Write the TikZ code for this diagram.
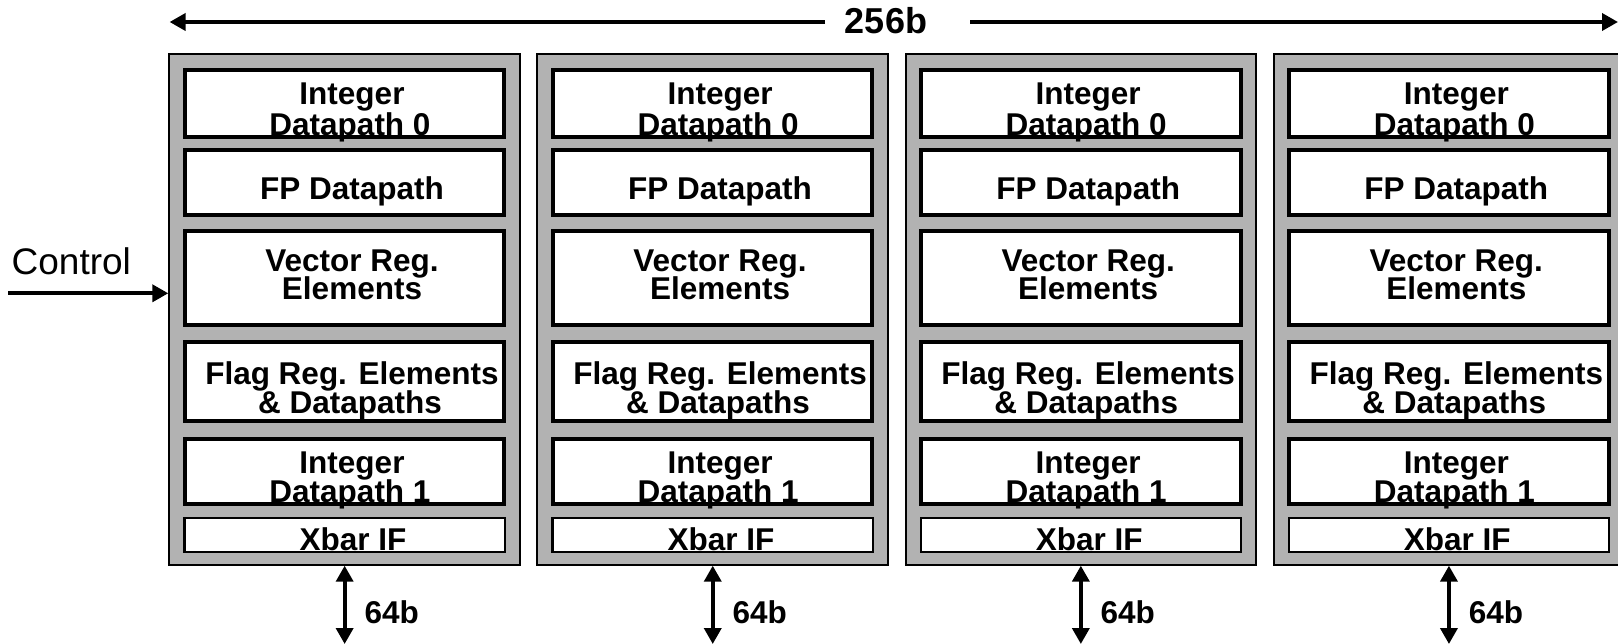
\documentclass[tikz,border=0pt]{standalone}
\usepackage{fontspec}
\setmainfont{Liberation Sans}
\usetikzlibrary{arrows.meta,calc}

\begin{document}
\begin{tikzpicture}[x=1pt,y=-1pt,
  >={Triangle[length=16pt,width=17pt]},
  lane/.style={draw=black, fill=black!30, line width=2pt, minimum width=350.7pt,
    minimum height=511pt, inner sep=0pt},
  unit/.style={draw=black, fill=white, line width=4pt, minimum width=319.4pt, inner sep=0pt},
  port/.style={draw=black, fill=white, line width=2.5pt, minimum width=320.2pt,
    minimum height=34.1pt, inner sep=0pt},
  lbl/.style={anchor=base, inner sep=0pt, font=\fontsize{31.5}{31}\selectfont\bfseries},
  bus/.style={line width=3.7pt, draw=black}
]
\useasboundingbox (0,0) rectangle (1618,644);

% four identical lanes
\foreach \k in {0,1,2,3} {
  \pgfmathsetmacro{\bx}{344.65+368.1*\k}
  \pgfmathsetmacro{\tx}{352+368.1*\k}
  \pgfmathsetmacro{\wx}{364.3+368.1*\k}
  \node[lane] (lane\k) at (\bx,309.2) {};
  \node[unit, minimum height=66.7pt] (intA\k) at (\bx,103.65) {};
  \node[unit, minimum height=64.4pt] (fp\k)   at (\bx,182.5) {};
  \node[unit, minimum height=93.7pt] (vec\k)  at (\bx,277.85) {};
  \node[unit, minimum height=79pt]   (flag\k) at (\bx,381.5) {};
  \node[unit, minimum height=65.3pt] (intB\k) at (\bx,471.35) {};
  \node[port] (xbar\k) at (\bx,535) {};
  % labels
  \node[lbl] (intAt\k) at (\tx,105) {Integer};
  \node[lbl] (intAb\k) at (\tx-2,136) {Datapath 0};
  \node[lbl] (fpt\k) at (\tx,200) {FP Datapath};
  \node[lbl] (vect\k) at (\tx,271.7) {Vector Reg.};
  \node[lbl] (vecb\k) at (\tx,300) {Elements};
  \node[lbl] (flagt\k) at (\tx,384.3) {Flag Reg. Elements};
  \node[lbl] (flagb\k) at (\tx-2,413.3) {\& Datapaths};
  \node[lbl] (intBt\k) at (\tx,473.3) {Integer};
  \node[lbl] (intBb\k) at (\tx-2,502.7) {Datapath 1};
  \node[lbl] (xbart\k) at (\tx+1,550.7) {Xbar IF};
  % 64b port to the crossbar
  \coordinate (busend\k) at (\bx,644);
  \draw[bus,<->] (lane\k.south) -- (busend\k);
  \node[lbl, anchor=base west] (bw\k) at (\wx,623.3) {64b};
}

% overall datapath width
\node[anchor=base, inner sep=0pt, font=\fontsize{36}{36}\selectfont\bfseries] (width) at (886,33.3) {256b};
\coordinate (wl) at (825,22);
\coordinate (wltip) at (169.6,22);
\coordinate (wr) at (970,22);
\coordinate (wrtip) at (1618,22);
\draw[bus,->] (wl) -- (wltip);
\draw[bus,->] (wr) -- (wrtip);

% control input
\node[anchor=base west, inner sep=0pt, font=\fontsize{37}{37}\selectfont] (ctrl) at (11.5,275) {Control};
\coordinate (ctrlin) at (8.3,293.3);
\draw[bus,->] (ctrlin) -- (ctrlin -| lane0.west);
\end{tikzpicture}
\end{document}
